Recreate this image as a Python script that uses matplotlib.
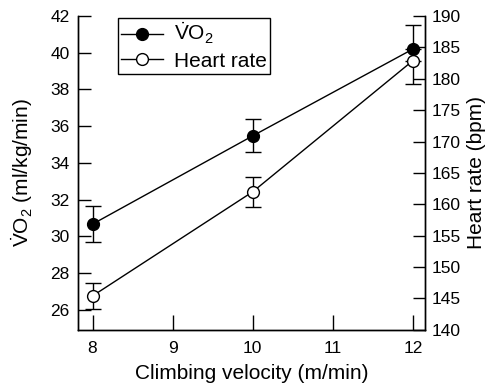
import matplotlib
matplotlib.use("Agg")
import matplotlib.pyplot as plt
from matplotlib.lines import Line2D
import numpy as np

plt.rcParams['font.family'] = ['Liberation Sans', 'DejaVu Sans']
plt.rcParams['mathtext.fontset'] = 'custom'
plt.rcParams['mathtext.rm'] = 'Liberation Sans'
plt.rcParams['mathtext.it'] = 'Liberation Sans:italic'

# data
velocity = [8, 10, 12]
vo2 = [30.66, 35.47, 40.2]
vo2_err_lo = [0.98, 0.9, 0.0]
vo2_err_hi = [0.98, 0.9, 1.31]
hr = [145.4, 162.0, 182.9]
hr_err_lo = [2.0, 2.4, 3.7]
hr_err_hi = [2.0, 2.4, 0.0]

fig = plt.figure(figsize=(4.88, 3.89), dpi=100)
ax = fig.add_axes([0.160, 0.152, 0.711, 0.807])
ax2 = ax.twinx()

vo2_label = r'$\dot{\mathrm{V}}\mathrm{O}_2$'

ax.errorbar(velocity, vo2, yerr=[vo2_err_lo, vo2_err_hi], color='black',
            marker='o', markersize=8.5, markerfacecolor='black',
            markeredgecolor='black', linewidth=1, elinewidth=1,
            capsize=6, capthick=1, zorder=3)
ax2.errorbar(velocity, hr, yerr=[hr_err_lo, hr_err_hi], color='black',
             marker='o', markersize=8.5, markerfacecolor='white',
             markeredgecolor='black', linewidth=1, elinewidth=1,
             capsize=6, capthick=1, zorder=3)

ax.set_xlim(7.82, 12.15)
ax.set_ylim(24.9, 42)
ax2.set_ylim(140, 190)
ax.set_xticks([8, 9, 10, 11, 12])
ax.set_yticks(np.arange(26, 43, 2))
ax2.set_yticks(np.arange(140, 191, 5))

for a in (ax, ax2):
    a.spines['top'].set_visible(False)
    for s in a.spines.values():
        s.set_linewidth(1)

ax.tick_params(axis='y', direction='in', length=9, width=1, labelsize=12.5, pad=6)
ax.tick_params(axis='x', direction='in', length=11, width=1, labelsize=12.5, pad=8)
ax2.tick_params(axis='y', direction='in', length=8.5, width=1, labelsize=12.5, pad=5)

ax.set_xlabel('Climbing velocity (m/min)', fontsize=15, labelpad=6)
ax.set_ylabel(vo2_label + ' (ml/kg/min)', fontsize=15, labelpad=11)
ax2.set_ylabel('Heart rate (bpm)', fontsize=15, labelpad=4)

handles = [
    Line2D([], [], color='black', marker='o', markersize=8.5,
           markerfacecolor='black', linewidth=1),
    Line2D([], [], color='black', marker='o', markersize=8.5,
           markerfacecolor='white', linewidth=1),
]
leg = ax.legend(handles, [vo2_label, 'Heart rate'], loc='upper left',
                bbox_to_anchor=(0.11, 1.0), fontsize=15, handlelength=2.0,
                fancybox=False, framealpha=1, edgecolor='black',
                borderaxespad=0.1, handletextpad=0.5, labelspacing=0.25,
                borderpad=0.15)
leg.get_frame().set_linewidth(1)

fig.savefig('out.png', dpi=100)
